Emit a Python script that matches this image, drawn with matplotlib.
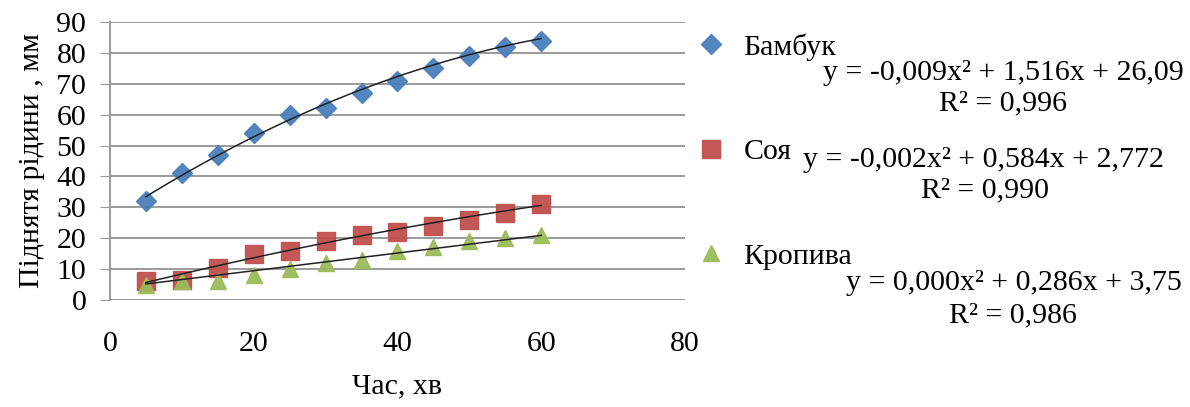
import matplotlib.pyplot as plt
import numpy as np

plt.rcParams['font.family'] = ['Liberation Serif', 'DejaVu Serif']

# час, хв
time_min = [5, 10, 15, 20, 25, 30, 35, 40, 45, 50, 55, 60]
# піднятя рідини, мм
bamboo = [32, 41, 47, 54, 60, 62, 67, 71, 75, 79, 82, 84]
soy = [6, 6.5, 10.5, 15, 16, 19, 21, 22, 24, 26, 28, 31]
nettle = [5, 6, 6, 8, 10, 12, 13, 16, 17, 19, 20, 21]

names = ["Бамбук", "Соя", "Кропива"]
# поліноміальні тренди (a, b, c) для y = a*x^2 + b*x + c
coefs = [(-0.009, 1.516, 26.09), (-0.002, 0.584, 2.772), (0.000, 0.286, 3.75)]
r2 = [0.996, 0.990, 0.986]

colors = ["#4a7ebb", "#c0504d", "#9bbb59"]
markers = ["D", "s", "^"]
sizes = [10, 12.5, 12]
fs = 21.5

fig = plt.figure(figsize=(11.9, 4.07), dpi=100)
ax = fig.add_axes([0.0924, 0.263, 0.4832, 0.683])

series = [bamboo, soy, nettle]
xx = np.linspace(time_min[0], time_min[-1], 100)
for ys, name, col, mk, ms, (a, b, c) in zip(series, names, colors, markers, sizes, coefs):
    ax.plot(time_min, ys, linestyle="none", marker=mk, ms=ms, color=col,
            markeredgecolor=col, label=name, zorder=3, alpha=0.95)
    ax.plot(xx, a * xx**2 + b * xx + c, color="#222222", lw=1.1, zorder=4)

ax.set_xlim(0, 80)
ax.set_ylim(0, 90)
ax.set_xticks([0, 20, 40, 60, 80])
ax.set_yticks(range(0, 91, 10))
ax.grid(axis="y", color="#9a9a9a", lw=1.4)
ax.set_axisbelow(True)
for s in ["top", "right", "bottom"]:
    ax.spines[s].set_visible(False)
ax.spines["left"].set_color("#9a9a9a")
ax.spines["left"].set_linewidth(1.4)
ax.tick_params(axis="y", length=7, color="#9a9a9a", labelsize=fs, pad=10)
ax.tick_params(axis="x", length=0, labelsize=fs, pad=22)
ax.set_xlabel("Час, хв", fontsize=fs, labelpad=12)
ax.set_ylabel("Піднятя рідини , мм", fontsize=fs, labelpad=8)

leg = ax.legend(loc="upper left", bbox_to_anchor=(0.572, 0.955), bbox_transform=fig.transFigure,
                frameon=False, fontsize=fs, labelspacing=2.6, handletextpad=0.6,
                handlelength=1.0, borderpad=0)

# рівняння трендів
def fmt(v, d):
    return f"{v:.{d}f}".replace(".", ",")

eq_pos = [(0.995, 0.820), (0.978, 0.606), (0.993, 0.304)]
r2_pos = [(0.843, 0.747), (0.828, 0.532), (0.851, 0.226)]
digits = [2, 3, 2]
for (a, b, c), r, (ex, ey), (rx, ry), d in zip(coefs, r2, eq_pos, r2_pos, digits):
    txt = f"y = {fmt(a, 3)}x² + {fmt(b, 3)}x + {fmt(c, d)}"
    fig.text(ex, ey, txt, ha="right", va="center", fontsize=fs)
    fig.text(rx, ry, f"R² = {fmt(r, 3)}", ha="center", va="center", fontsize=fs)

fig.savefig("out.png", dpi=100)
